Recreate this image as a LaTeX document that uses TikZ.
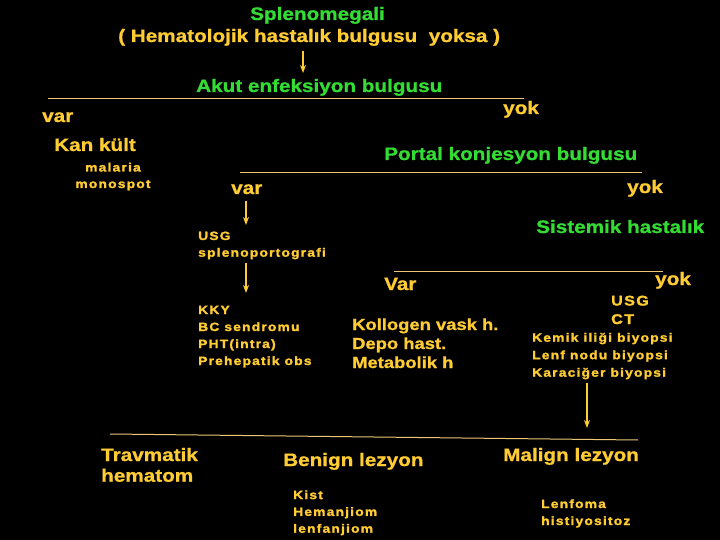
\documentclass[tikz,border=0pt]{standalone}
\usepackage{fontspec}
\newfontfamily\bigfont[FakeStretch=1.15,FakeBold=1]{Liberation Sans}
\newfontfamily\smallfont[FakeStretch=1.15,LetterSpace=10,FakeBold=1.8]{Liberation Sans}
\usepackage{tikz}
\usetikzlibrary{arrows.meta}
\usetikzlibrary{positioning}
\definecolor{slidegreen}{RGB}{51,221,51}
\definecolor{slideyellow}{RGB}{255,204,51}
\definecolor{slideline}{RGB}{235,200,120}
\tikzset{
  yeltext/.style={text=slideyellow, inner sep=0pt, anchor=base west, align=left,
    font=\bigfont\bfseries\fontsize{18}{#1}\selectfont},
  yeltext/.default=21,
  greentext/.style={yeltext, text=slidegreen},
  midtext/.style={yeltext, font=\bigfont\bfseries\fontsize{16}{19}\selectfont},
  smalltext/.style={text=slideyellow, inner sep=0pt, anchor=base west, align=left,
    font=\smallfont\bfseries\fontsize{12}{#1}\selectfont},
  smalltext/.default=17,
  rule/.style={draw=slideline, line width=1pt},
  down/.style={draw=slideyellow, line width=1.3pt, -{Stealth[length=8pt,width=6pt]}}
}
\begin{document}
\begin{tikzpicture}[x=1pt,y=-1pt]
\fill[black] (0,0) rectangle (720,540);
% multi-line nodes sit on the baseline of their last line
%%%%%%%%%%%%%%%%%%%%%%%%%%%%%%%%%%%%%
\node[greentext] (spleno) at (250,20) {Splenomegali};
\node[yeltext] (hemato) at (118,42) {( Hematolojik hastalık bulgusu\ \ yoksa )};
\node[greentext] (akut) at (196,92) {Akut enfeksiyon bulgusu};
\node[yeltext] (var1) at (42,122) {var};
\node[yeltext] (yok1) at (503,114) {yok};
\node[yeltext] (kan) at (54,151) {Kan kült};
\node[smalltext=16.5, align=center, anchor=base] (kantest) at (113,188) {malaria\\monospot};
%%%%%%%%%%%%%%%%%%%%%%%%%%%%%%%%%%%%%
\node[greentext] (portal) at (384,160) {Portal konjesyon bulgusu};
\node[yeltext] (var2) at (231,194) {var};
\node[yeltext] (yok2) at (627,193) {yok};
\node[smalltext=16.7] (usg1) at (198,256.7) {USG\\splenoportografi};
\node[smalltext] (portlist) at (198,365) {KKY\\BC sendromu\\PHT(intra)\\Prehepatik obs};
%%%%%%%%%%%%%%%%%%%%%%%%%%%%%%%%%%%%%
\node[greentext] (sistemik) at (536,233) {Sistemik hastalık};
\node[yeltext] (var3) at (384,290) {Var};
\node[yeltext] (yok3) at (655,285) {yok};
\node[midtext] (sislist) at (352,368) {Kollogen vask h.\\Depo hast.\\Metabolik h};
\node[smalltext, font=\smallfont\bfseries\fontsize{14}{18.5}\selectfont] (usg2) at (611,324) {USG\\CT};
\node[smalltext=17.5] (biyopsi) at (532,376.7) {Kemik iliği biyopsi\\Lenf nodu biyopsi\\Karaciğer biyopsi};
%%%%%%%%%%%%%%%%%%%%%%%%%%%%%%%%%%%%%
\node[yeltext=20.7] (travma) at (101,481.7) {Travmatik\\hematom};
\node[yeltext] (benign) at (283,466) {Benign lezyon};
\node[yeltext] (malign) at (503,461) {Malign lezyon};
\node[smalltext=16.8] (benlist) at (293,532.7) {Kist\\Hemanjiom\\lenfanjiom};
\node[smalltext] (mallist) at (541,525) {Lenfoma\\histiyositoz};
%%%%%%%%%%%%%%%%%%%%%%%%%%%%%%%%%%%%%
\coordinate (l1a) at (48,99);
\coordinate (l1b) at (524,99);
\coordinate (l2a) at (240,173);
\coordinate (l2b) at (642,173);
\coordinate (l3a) at (394,271);
\coordinate (l3b) at (663,271);
\coordinate (l4a) at (110,434);
\coordinate (l4b) at (638,440);
\coordinate (a1s) at (303,51);
\coordinate (a1e) at (303,73);
\coordinate (a2s) at (246,201);
\coordinate (a2e) at (246,225);
\coordinate (a3s) at (246,263);
\coordinate (a3e) at (246,293);
\coordinate (a4s) at (587,383);
\coordinate (a4e) at (587,428);
%%%%%%%%%%%%%%%%%%%%%%%%%%%%%%%%%%%%%
\draw[rule] (l1a) -- (l1b);
\draw[rule] (l2a) -- (l2b);
\draw[rule] (l3a) -- (l3b);
\draw[rule] (l4a) -- (l4b);
\draw[down] (a1s) -- (a1e);
\draw[down] (a2s) -- (a2e);
\draw[down] (a3s) -- (a3e);
\draw[down] (a4s) -- (a4e);
\end{tikzpicture}
\end{document}
